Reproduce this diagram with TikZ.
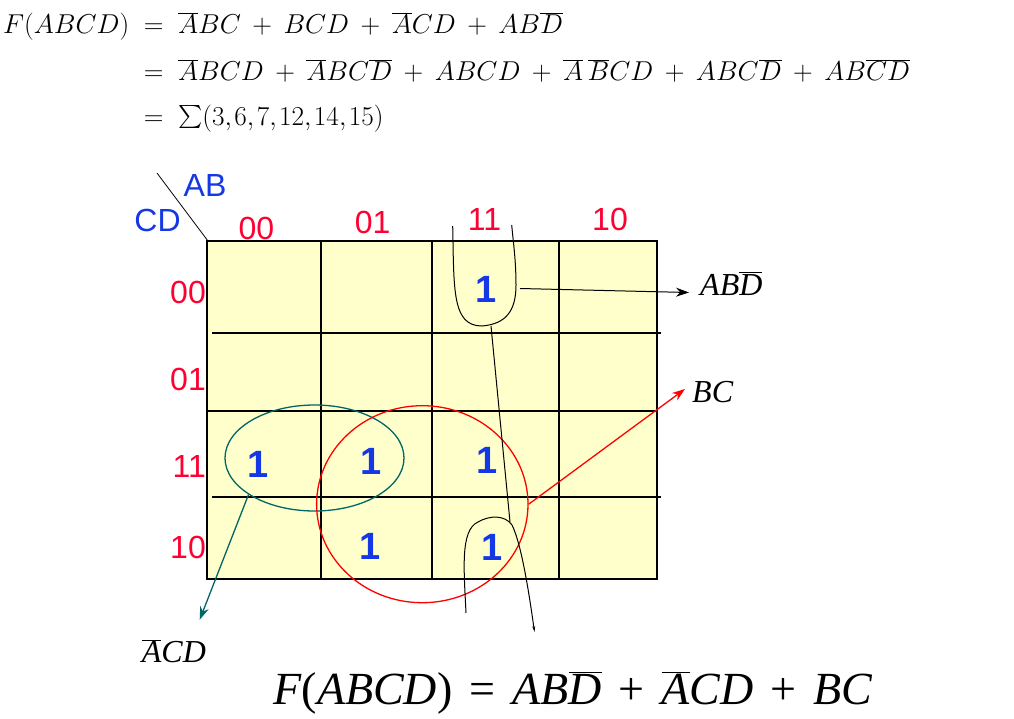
\documentclass[tikz,border=0pt]{standalone}
\usepackage{fix-cm}
\usepackage[no-math]{fontspec}
\newfontfamily\arialf{Liberation Sans}
\newfontfamily\timesf{Liberation Serif}
\usetikzlibrary{arrows.meta,shapes.geometric}
\definecolor{kfill}{HTML}{FFFFCC}
\definecolor{kred}{HTML}{FF0033}
\definecolor{kblue}{HTML}{1438E6}
\definecolor{kteal}{HTML}{006666}
\newcommand\EQ{\mathrel{\kern7pt=\kern7pt}}
\newcommand\PL{\mathbin{\kern5.4pt+\kern5.4pt}}
\newcommand\CM{{,}\kern2.4pt}
\newcommand\ovl[1]{$\overline{\hbox{\itshape #1}}$}
\newcommand\bigsum{\mathop{\raisebox{2.5pt}{\scalebox{2.3}{\fontsize{10}{12}\selectfont$\textstyle\sum$}}}}
\begin{document}
\begin{tikzpicture}[x=1pt,y=-1pt,
  lbl/.style={inner sep=0pt, text=kred, font=\arialf\fontsize{32}{34}\selectfont},
  axislbl/.style={inner sep=0pt, text=kblue, font=\arialf\fontsize{32}{34}\selectfont},
  one/.style={inner sep=0pt, text=kblue, font=\arialf\bfseries\fontsize{38}{40}\selectfont},
  gridline/.style={line width=2.2pt},
  term/.style={inner sep=0pt, anchor=base west, font=\timesf\itshape\fontsize{32}{34}\selectfont},
  eqn/.style={inner sep=0pt, anchor=base west, font=\fontsize{27.3}{32}\selectfont},
  tip/.style={-{Stealth[length=13pt,width=9pt]}},
  ]
\useasboundingbox (0,0) rectangle (1014,718);
\fill[white] (0,0) rectangle (1014,718);

% equations at top
\node[eqn] (eq1) at (3,33) {$F(ABCD)\EQ\overline{A}BC\PL BCD\PL\overline{A}CD\PL AB\overline{D}$};
\node[eqn] (eq2) at (3,80) {$\hphantom{F(ABCD)}\EQ\overline{A}BCD\PL\overline{A}BC\overline{D}\PL ABCD\PL\overline{A}\,\overline{B}CD\PL ABC\overline{D}\PL AB\overline{C}\overline{D}$};
\node[eqn] (eq3) at (3,125) {$\hphantom{F(ABCD)}\EQ\bigsum(3\CM 6\CM 7\CM 12\CM 14\CM 15)$};

% K-map grid
\fill[kfill] (207,241) rectangle (657,579);
\draw[gridline] (321,241) -- (321,579);
\draw[gridline] (432,241) -- (432,579);
\draw[gridline] (559,241) -- (559,579);
\draw[gridline] (212,333) -- (661,333);
\draw[gridline] (207,411) -- (657,411);
\draw[gridline] (212,497) -- (661,497);
\draw[gridline] (207,241) rectangle (657,579);
\draw[line width=0.8pt] (157,173) -- (208,241);

% labels
\node[axislbl] (ab) at (205,185.5) {AB};
\node[axislbl] (cd) at (157.6,220) {CD};
\node[lbl] (c00) at (256.5,228) {00};
\node[lbl] (c01) at (372.6,222) {01};
\node[lbl] (c11) at (484.5,219.6) {11};
\node[lbl] (c10) at (610,219.6) {10};
\node[lbl, anchor=east] (r00) at (206,292.5) {00};
\node[lbl, anchor=east] (r01) at (206,379) {01};
\node[lbl, anchor=east] (r11) at (206,466) {11};
\node[lbl, anchor=east] (r10) at (206,547.5) {10};

% ones
\node[one] (m12) at (485.7,289.7) {1};
\node[one] (m3) at (258,464) {1};
\node[one] (m7) at (371.5,461) {1};
\node[one] (m15) at (487.5,460) {1};
\node[one] (m6) at (370.5,546.5) {1};
\node[one] (m14) at (492.5,547) {1};

% groupings
\node[ellipse, draw=kteal, line width=1.3pt, minimum width=179pt, minimum height=106pt, inner sep=0pt] (gacd) at (314.5,458) {};
\node[ellipse, draw=red, line width=1.3pt, minimum width=211.4pt, minimum height=197pt, inner sep=0pt] (gbc) at (422.3,504.2) {};

% hand-drawn wrap-around group AB~D
\draw[line width=1pt] (452.7,226) .. controls (454,290) and (452,326) .. (482,326)
  .. controls (505,324) and (516,312) .. (516,285)
  .. controls (516,260) and (513,240) .. (511.7,225);
\draw[line width=1pt] (491,326) -- (510,522);
\draw[line width=1pt, -{Stealth[length=6pt,width=3pt]}] (466,613) .. controls (464,570) and (460,530) .. (478,522)
  .. controls (490,515) and (505,515) .. (512,525)
  .. controls (522,545) and (530,600) .. (534.5,632);

% term labels
\node[term] (tabd) at (700,295) {AB\ovl{D}};
\node[term] (tbc) at (692,402) {BC};
\node[term] (tacd) at (141.7,662.7) {\ovl{A}CD};

\coordinate (loopR) at (520,288.5);
\draw[tip, line width=1pt] (loopR) -- ([shift={(-11pt,2.5pt)}]tabd.base west);
\draw[tip, red, line width=1.3pt] (gbc.east) -- ([shift={(-7pt,13pt)}]tbc.base west);
\draw[tip, kteal, line width=1.3pt] (gacd.209) -- ([shift={(58pt,43pt)}]tacd.base west);

% result
\node[inner sep=0pt, anchor=base west, font=\timesf\fontsize{46}{50}\selectfont] (res) at (273,704)
  {\textit{F}(\textit{ABCD})\hspace{17pt}=\hspace{17pt}\textit{AB}\ovl{D}\hspace{17pt}+\hspace{17pt}\ovl{A}\textit{CD}\hspace{17pt}+\hspace{17pt}\textit{BC}};
\end{tikzpicture}
\end{document}
